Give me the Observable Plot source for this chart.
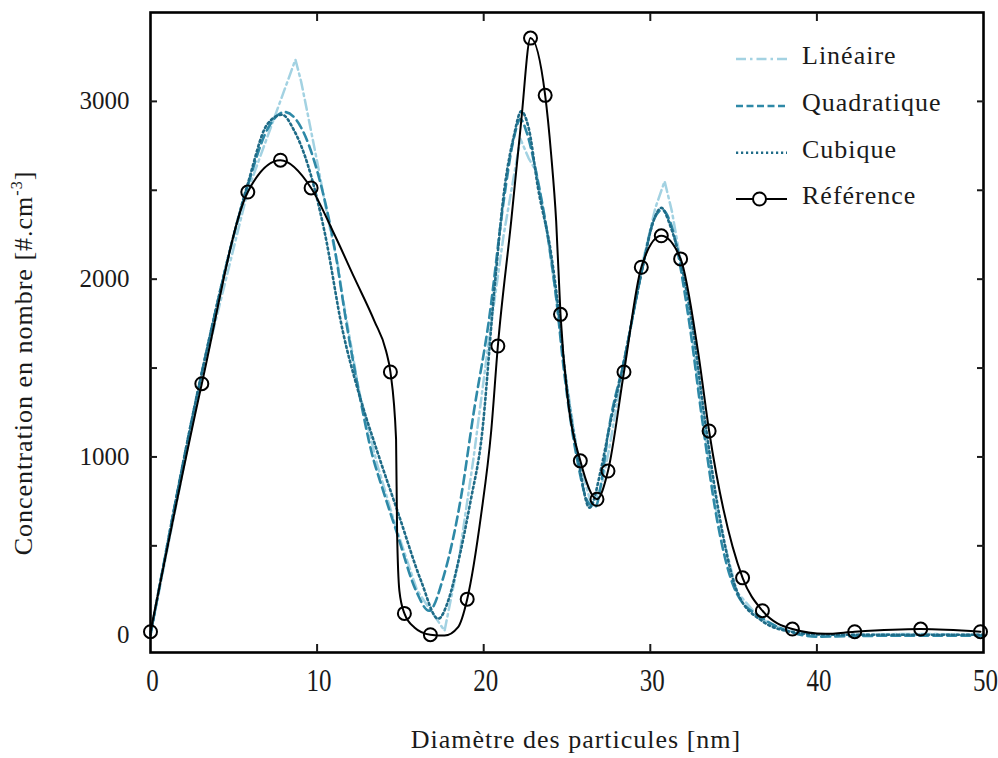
<!DOCTYPE html>
<html>
<head>
<meta charset="utf-8">
<script src="https://cdn.jsdelivr.net/npm/d3@7"></script>
<script src="https://cdn.jsdelivr.net/npm/@observablehq/plot@0.6"></script>
<style>
  html, body { margin: 0; padding: 0; background: #fff; }
  #chart { width: 998px; height: 758px; }
</style>
</head>
<body>
<div id="chart"></div>
<script>
// ---------- Data ----------
const seriesNames = ["Linéaire", "Quadratique", "Cubique", "Référence"];
const seriesColors = ["#a3d2e2", "#2e89a7", "#1f6b87", "#000000"];

const xTicks = [0, 10, 20, 30, 40, 50];
const xTickMarks = [10, 20, 30, 40];
const yTickLabels = [0, 1000, 2000, 3000];
const yTickMarks = [500, 1000, 1500, 2000, 2500, 3000];

// Référence: markers
const refMarkX = [0, 3.08, 5.84, 7.80, 9.64, 14.40, 15.24, 16.80, 19.01, 20.85, 22.81, 23.69, 24.61, 25.80, 26.80, 27.46, 28.42, 29.46, 30.66, 31.82, 33.53, 35.54, 36.73, 38.53, 42.27, 46.23, 49.82];
const refMarkY = [17, 1412, 2490, 2669, 2513, 1478, 120, 0, 200, 1624, 3356, 3034, 1802, 978, 762, 921, 1478, 2067, 2244, 2114, 1146, 320, 135, 32, 17, 32, 17];

// Référence: traced line
const refLineX = [0, 3.08, 5.84, 7.80, 9.64, 11.04, 12.24, 13.44, 14.14, 14.40, 14.74, 14.80, 14.94, 15.24, 15.84, 16.80, 17.65, 18.45, 19.01, 19.85, 20.45, 20.85, 21.65, 22.25, 22.81, 23.69, 24.05, 24.35, 24.61, 25.06, 25.80, 26.80, 27.46, 28.42, 29.46, 30.66, 31.82, 32.86, 33.53, 35.54, 36.73, 38.53, 40.5, 42.27, 46.23, 49.82];
const refLineY = [17, 1412, 2490, 2669, 2513, 2251, 2007, 1764, 1596, 1478, 1100, 584, 247, 120, 41, 0, -5, 41, 200, 678, 1146, 1624, 2326, 2888, 3356, 3034, 2700, 2326, 1802, 1315, 978, 762, 921, 1478, 2067, 2244, 2114, 1596, 1146, 320, 135, 32, 5, 17, 32, 17];

// Linéaire
const linX = [0, 3.0, 5.85, 8.7, 9.04, 9.44, 10.04, 10.64, 11.24, 11.54, 12.5, 13.6, 14.75, 16.0, 17.65, 18.5, 19.4, 20.3, 21.2, 22.2, 22.7, 23.15, 23.86, 24.35, 24.85, 25.66, 26.5, 27.1, 27.5, 28.46, 29.5, 30.3, 30.86, 31.3, 32.3, 33.1, 34, 35.2, 36.6, 38, 40, 42, 46, 50];
const linY = [0, 1420, 2500, 3235, 3112, 2927, 2644, 2344, 2084, 1895, 1380, 960, 600, 250, 22, 420, 1000, 1650, 2250, 2790, 2680, 2607, 2232, 1895, 1502, 996, 720, 850, 1030, 1540, 2080, 2400, 2551, 2380, 1850, 1250, 680, 240, 90, 30, 2, 0, 5, 0];

// Quadratique
const quadX = [0, 3, 5.85, 7, 8.05, 9, 10, 11, 11.84, 12.5, 13.25, 14.0, 14.75, 15.94, 16.72, 17.6, 18.65, 19.4, 20.3, 21.2, 21.8, 22.2, 22.6, 23.15, 23.86, 24.35, 24.8, 25.6, 26.3, 26.7, 27.1, 27.46, 28.46, 29.5, 30.2, 30.7, 31.2, 32.3, 33.1, 34, 35.2, 36.67, 38, 40.07, 42, 46, 50];
const quadY = [0, 1440, 2530, 2840, 2940, 2860, 2610, 2200, 1708, 1370, 1034, 800, 585, 247, 135, 330, 780, 1250, 1760, 2440, 2790, 2900, 2820, 2600, 2232, 1895, 1500, 990, 740, 720, 880, 1127, 1558, 2050, 2330, 2390, 2320, 1780, 1220, 650, 230, 97, 30, -11, -8, -5, -5];

// Cubique
const cubX = [0, 3, 5.85, 7, 7.9, 8.6, 9.44, 10.44, 11.54, 12.5, 13.6, 14.92, 16.24, 17.27, 17.9, 18.45, 19.25, 19.85, 20.65, 21.25, 21.8, 22.25, 22.7, 23.26, 24.05, 24.5, 24.85, 25.66, 26.35, 27.06, 27.46, 28.46, 29.5, 30.2, 30.66, 31.2, 32.46, 33.26, 34, 35.27, 36.67, 38, 40, 42, 46, 50];
const cubY = [0, 1440, 2540, 2870, 2925, 2840, 2644, 2270, 1708, 1360, 1034, 669, 303, 90, 200, 400, 770, 1090, 1951, 2513, 2800, 2944, 2850, 2513, 2140, 1820, 1502, 996, 715, 940, 1127, 1558, 2050, 2330, 2401, 2300, 1783, 1221, 750, 229, 80, 25, 2, 0, 0, 0];

// ---------- Tables ----------
const toRows = (xs, ys) => xs.map((x, i) => ({x, y: ys[i]}));
const lin = toRows(linX, linY);
const quad = toRows(quadX, quadY);
const cub = toRows(cubX, cubY);
const refLine = toRows(refLineX, refLineY);
const refMarks = toRows(refMarkX, refMarkY);

const FONT = "'Liberation Serif', 'DejaVu Serif', serif";
const fmt = d3.format("d");

const chart = Plot.plot({
  width: 998,
  height: 758,
  marginLeft: 150,
  marginRight: 15,
  marginTop: 12,
  marginBottom: 106,
  x: {domain: [0, 50], label: null},
  y: {domain: [-100, 3500], label: null},
  style: {fontFamily: FONT, fontSize: "25px", color: "#1a1a1a", background: "#fff", overflow: "visible"},
  marks: [
    Plot.line(lin, {x: "x", y: "y", stroke: seriesColors[0], strokeWidth: 2.5, strokeDasharray: "10,4,2.5,4"}),
    Plot.line(quad, {x: "x", y: "y", curve: "monotone-x", stroke: seriesColors[1], strokeWidth: 2.6, strokeDasharray: "9,5"}),
    Plot.line(cub, {x: "x", y: "y", curve: "monotone-x", stroke: seriesColors[2], strokeWidth: 2.6, strokeDasharray: "2,3"}),
    Plot.line(refLine, {x: "x", y: "y", curve: "monotone-x", stroke: seriesColors[3], strokeWidth: 2}),
    Plot.dot(refMarks, {x: "x", y: "y", r: 6.5, stroke: "#000", strokeWidth: 2, fill: "none"}),
    Plot.frame({stroke: "#000", strokeWidth: 2.6}),
    // inward tick marks
    Plot.axisX(xTickMarks, {anchor: "bottom", tickSize: -8, strokeWidth: 2, fill: "none", label: null}),
    Plot.axisX(xTickMarks, {anchor: "top", tickSize: -8, strokeWidth: 2, fill: "none", label: null}),
    Plot.axisY(yTickMarks, {anchor: "left", tickSize: -7, strokeWidth: 2, fill: "none", label: null}),
    Plot.axisY(yTickMarks, {anchor: "right", tickSize: -7, strokeWidth: 2, fill: "none", label: null}),
    // tick labels
    Plot.axisX(xTicks, {anchor: "bottom", tickSize: 0, tickPadding: 18, dx: 2, tickFormat: fmt, label: null}),
    Plot.axisY(yTickLabels, {anchor: "left", tickSize: 0, tickPadding: 21, tickFormat: fmt, label: null})
  ]
});

document.getElementById("chart").appendChild(chart);

const svg = d3.select(chart);

// stretch x tick labels vertically, as in the reference
svg.selectAll("g[aria-label='x-axis tick label'] text").each(function () {
  const b = this.getBBox();
  const cx = b.x + b.width / 2, cy = b.y + b.height / 2;
  const t = this.getAttribute("transform") || "";
  this.setAttribute("transform", `${t} translate(${cx},${cy}) scale(1,1.3) translate(${-cx},${-cy})`);
});

// axis titles
svg.append("text")
  .attr("x", 576).attr("y", 748)
  .attr("text-anchor", "middle")
  .attr("font-family", FONT).attr("font-size", 26)
  .attr("letter-spacing", 1)
  .attr("fill", "#1a1a1a")
  .text("Diamètre des particules [nm]");

const yt = svg.append("text")
  .attr("transform", "translate(32,363) rotate(-90)")
  .attr("text-anchor", "middle")
  .attr("font-family", FONT).attr("font-size", 26)
  .attr("letter-spacing", 1)
  .attr("fill", "#1a1a1a");
yt.append("tspan").text("Concentration en nombre [#.cm");
yt.append("tspan").attr("font-size", 16).attr("dy", -10).text("-3");
yt.append("tspan").attr("dy", 10).text("]");

// legend
const legY = [59, 106, 152.7, 199];
const lg = svg.append("g");
const dashes = ["10,4,2.5,4", "7,3.5", "2.2,2.8", null];
seriesNames.forEach((name, i) => {
  const l = lg.append("line")
    .attr("x1", 736).attr("x2", 787)
    .attr("y1", legY[i]).attr("y2", legY[i])
    .attr("stroke", seriesColors[i])
    .attr("stroke-width", i === 3 ? 2.2 : 2.6);
  if (dashes[i]) l.attr("stroke-dasharray", dashes[i]);
  if (i === 3) {
    lg.append("circle").attr("cx", 759.5).attr("cy", legY[i]).attr("r", 6.5)
      .attr("fill", "#fff").attr("stroke", "#000").attr("stroke-width", 2);
  }
  lg.append("text")
    .attr("x", 802).attr("y", legY[i] + 5)
    .attr("text-anchor", "start")
    .attr("font-family", FONT).attr("font-size", 26)
    .attr("letter-spacing", 1)
    .attr("fill", "#1a1a1a")
    .text(name);
});
</script>
</body>
</html>
